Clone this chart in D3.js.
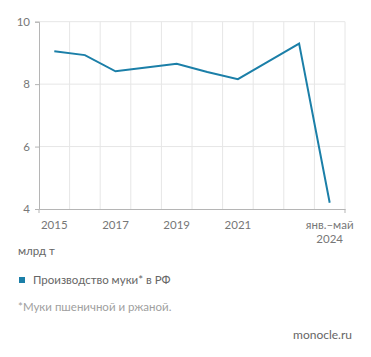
<!DOCTYPE html>
<html><head><meta charset="utf-8">
<script src="https://cdn.jsdelivr.net/npm/d3@7"></script>
<style>
body{margin:0;background:#fff;}
svg{display:block;font-family:Lato,"Open Sans",sans-serif;}
</style></head>
<body>
<svg id="c" width="371" height="357"></svg>
<script>
const categories = ["2015","2016","2017","2018","2019","2020","2021","2022","2023","янв.–май 2024"];
const values = [9.05, 8.93, 8.41, 8.53, 8.65, 8.39, 8.16, 8.73, 9.30, 4.2];
const yTicks = [4, 6, 8, 10];
const labeledCats = ["2015","2017","2019","2021","янв.–май 2024"];
const unitLabel = "млрд т";
const seriesName = "Производство муки* в РФ";
const footnote = "*Муки пшеничной и ржаной.";
const source = "monocle.ru";

const svg = d3.select("#c");
const L = 39, R = 345, T = 21.7, B = 209;
const x = d3.scaleBand().domain(categories).range([L, R]).padding(0);
const y = d3.scaleLinear().domain([4, 10]).range([B, T]);
const lineColor = "#1b7fa8";
const font = "Lato,'Open Sans',sans-serif";

// vertical gridlines at band boundaries
const bounds = categories.map(c => x(c)).concat([R]);
svg.append("g").selectAll("line").data(bounds.slice(1)).join("line")
  .attr("x1", d => d).attr("x2", d => d).attr("y1", T).attr("y2", B)
  .attr("stroke", "#e6e6e6").attr("stroke-width", 1);
// horizontal gridlines
svg.append("g").selectAll("line").data(yTicks.slice(1)).join("line")
  .attr("x1", L).attr("x2", R).attr("y1", d => y(d)).attr("y2", d => y(d))
  .attr("stroke", "#e6e6e6").attr("stroke-width", 1);

// y axis
const yAxis = svg.append("g").attr("transform", `translate(${L},0)`)
  .call(d3.axisLeft(y).tickValues(yTicks).tickFormat(d3.format("d")).tickSize(4).tickPadding(5));
yAxis.select(".domain").attr("stroke", "#b5b5b5");
yAxis.selectAll(".tick line").attr("stroke", "#b5b5b5");
yAxis.selectAll("text").attr("fill", "#777").attr("font-size", 11.5).attr("font-family", font);

// x axis
const xAxis = svg.append("g").attr("transform", `translate(0,${B})`)
  .call(d3.axisBottom(x).tickValues([]).tickSizeOuter(0));
xAxis.select(".domain").attr("stroke", "#b5b5b5");
svg.append("g").selectAll("line").data([L, R]).join("line")
  .attr("x1", d => d).attr("x2", d => d).attr("y1", B).attr("y2", B + 4)
  .attr("stroke", "#b5b5b5");

const lab = svg.append("g").attr("fill", "#777").attr("font-size", 11.5).attr("text-anchor", "middle");
labeledCats.forEach(c => {
  const cx = x(c) + x.bandwidth() / 2;
  const parts = c.split(" ");
  parts.forEach((p, i) => {
    lab.append("text").attr("x", cx).attr("y", 229 + i * 13.5).text(p);
  });
});

// line
svg.append("path").datum(values)
  .attr("fill", "none").attr("stroke", lineColor).attr("stroke-width", 2)
  .attr("stroke-linejoin", "miter")
  .attr("d", d3.line().x((d, i) => x(categories[i]) + x.bandwidth() / 2).y(d => y(d)));

// unit
svg.append("text").attr("x", 18).attr("y", 255).attr("fill", "#666").attr("font-size", 11.5).text(unitLabel);

// legend
svg.append("rect").attr("x", 19).attr("y", 277).attr("width", 6).attr("height", 6).attr("fill", lineColor);
svg.append("text").attr("x", 33).attr("y", 284).attr("fill", "#666").attr("font-size", 11.5).text(seriesName);

// footnote
svg.append("text").attr("x", 18).attr("y", 311).attr("fill", "#a0a0a0").attr("font-size", 11.5).text(footnote);

// source
svg.append("text").attr("x", 352).attr("y", 339).attr("text-anchor", "end").attr("fill", "#666").attr("font-size", 12).text(source);
</script>
</body></html>
